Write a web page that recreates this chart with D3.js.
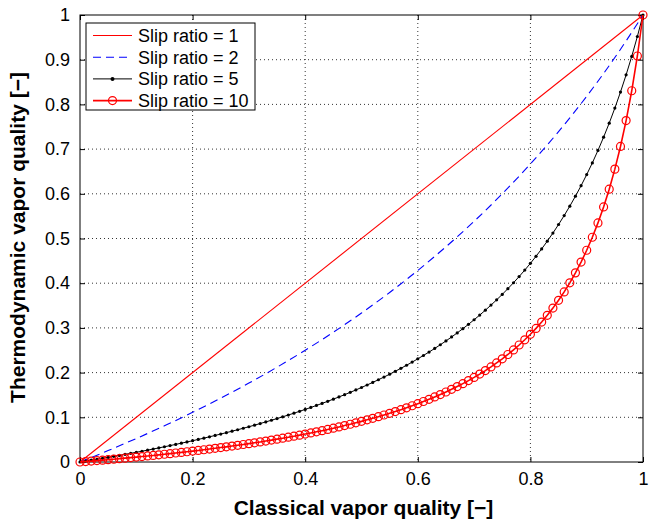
<!DOCTYPE html>
<html><head><meta charset="utf-8">
<script src="https://cdn.jsdelivr.net/npm/d3@7"></script>
<style>body{margin:0;background:#fff}svg{display:block}text{font-family:"Liberation Sans",Arial,sans-serif}</style>
</head><body><svg id="c" width="649" height="520"></svg>
<script>
// x grid for marker series (step 0.01)
const xFine = [0,0.01,0.02,0.03,0.04,0.05,0.06,0.07,0.08,0.09,0.10,0.11,0.12,0.13,0.14,0.15,0.16,0.17,0.18,0.19,0.20,0.21,0.22,0.23,0.24,0.25,0.26,0.27,0.28,0.29,0.30,0.31,0.32,0.33,0.34,0.35,0.36,0.37,0.38,0.39,0.40,0.41,0.42,0.43,0.44,0.45,0.46,0.47,0.48,0.49,0.50,0.51,0.52,0.53,0.54,0.55,0.56,0.57,0.58,0.59,0.60,0.61,0.62,0.63,0.64,0.65,0.66,0.67,0.68,0.69,0.70,0.71,0.72,0.73,0.74,0.75,0.76,0.77,0.78,0.79,0.80,0.81,0.82,0.83,0.84,0.85,0.86,0.87,0.88,0.89,0.90,0.91,0.92,0.93,0.94,0.95,0.96,0.97,0.98,0.99,1.00];
const xCoarse = [0,0.05,0.10,0.15,0.20,0.25,0.30,0.35,0.40,0.45,0.50,0.55,0.60,0.65,0.70,0.75,0.80,0.85,0.90,0.95,1.00];
const xLine = [0, 1];

const slip1 = [0, 1];
const slip2 = [0,0.0256,0.0526,0.0811,0.1111,0.1429,0.1765,0.2121,0.2500,0.2903,0.3333,0.3793,0.4286,0.4815,0.5385,0.6000,0.6667,0.7391,0.8182,0.9048,1.0000];
const slip5 = [0,0.0020,0.0041,0.0061,0.0083,0.0104,0.0126,0.0148,0.0171,0.0194,0.0217,0.0241,0.0265,0.0290,0.0315,0.0341,0.0367,0.0394,0.0421,0.0448,0.0476,0.0505,0.0534,0.0564,0.0594,0.0625,0.0657,0.0689,0.0722,0.0755,0.0789,0.0824,0.0860,0.0897,0.0934,0.0972,0.1011,0.1051,0.1092,0.1134,0.1176,0.1220,0.1265,0.1311,0.1358,0.1406,0.1456,0.1506,0.1558,0.1612,0.1667,0.1723,0.1781,0.1840,0.1901,0.1964,0.2029,0.2096,0.2164,0.2235,0.2308,0.2383,0.2460,0.2540,0.2623,0.2708,0.2797,0.2888,0.2982,0.3080,0.3182,0.3287,0.3396,0.3510,0.3627,0.3750,0.3878,0.4010,0.4149,0.4293,0.4444,0.4602,0.4767,0.4940,0.5122,0.5313,0.5513,0.5724,0.5946,0.6181,0.6429,0.6691,0.6970,0.7266,0.7581,0.7917,0.8276,0.8661,0.9074,0.9519,1.0000];
const slip10 = [0,0.0010,0.0020,0.0031,0.0041,0.0052,0.0063,0.0075,0.0086,0.0098,0.0110,0.0122,0.0135,0.0147,0.0160,0.0173,0.0187,0.0201,0.0215,0.0229,0.0244,0.0259,0.0274,0.0290,0.0306,0.0323,0.0339,0.0357,0.0374,0.0392,0.0411,0.0430,0.0449,0.0469,0.0490,0.0511,0.0533,0.0555,0.0578,0.0601,0.0625,0.0650,0.0675,0.0701,0.0728,0.0756,0.0785,0.0815,0.0845,0.0877,0.0909,0.0943,0.0977,0.1013,0.1051,0.1089,0.1129,0.1170,0.1213,0.1258,0.1304,0.1353,0.1403,0.1455,0.1509,0.1566,0.1626,0.1688,0.1753,0.1821,0.1892,0.1967,0.2045,0.2128,0.2216,0.2308,0.2405,0.2508,0.2617,0.2734,0.2857,0.2989,0.3130,0.3281,0.3443,0.3617,0.3805,0.4009,0.4231,0.4472,0.4737,0.5028,0.5349,0.5706,0.6104,0.6552,0.7059,0.7638,0.8305,0.9083,1.0000];

const seriesLabels = ["Slip ratio = 1","Slip ratio = 2","Slip ratio = 5","Slip ratio = 10"];
const xTicks = [0,0.2,0.4,0.6,0.8,1];
const yTicks = [0,0.1,0.2,0.3,0.4,0.5,0.6,0.7,0.8,0.9,1];
const xTitle = "Classical vapor quality [\u2212]";
const yTitle = "Thermodynamic vapor quality [\u2212]";

const svg = d3.select("#c");
const L = 80, R = 643, T = 15, B = 462;
const x = d3.scaleLinear().domain([0,1]).range([L,R]);
const y = d3.scaleLinear().domain([0,1]).range([B,T]);
const fmt = d => String(d);

// grid
const grid = svg.append("g");
grid.selectAll(".gx").data(xTicks.slice(1,-1)).enter().append("line")
  .attr("x1", d => x(d)).attr("x2", d => x(d)).attr("y1", T).attr("y2", B)
  .attr("stroke", "#000").attr("stroke-width", 0.8).attr("stroke-dasharray", "1,3");
grid.selectAll(".gy").data(yTicks.slice(1,-1)).enter().append("line")
  .attr("y1", d => y(d)).attr("y2", d => y(d)).attr("x1", L).attr("x2", R)
  .attr("stroke", "#000").attr("stroke-width", 0.8).attr("stroke-dasharray", "1,3");

// axes
const ax = svg.append("g").attr("transform", `translate(0,${B})`)
  .call(d3.axisBottom(x).tickValues(xTicks).tickFormat(fmt).tickSizeInner(-5).tickSizeOuter(0).tickPadding(10));
const axT = svg.append("g").attr("transform", `translate(0,${T})`)
  .call(d3.axisTop(x).tickValues(xTicks).tickFormat("").tickSizeInner(-5).tickSizeOuter(0));
const ay = svg.append("g").attr("transform", `translate(${L},0)`)
  .call(d3.axisLeft(y).tickValues(yTicks).tickFormat(fmt).tickSizeInner(-5).tickSizeOuter(0).tickPadding(10));
const ayR = svg.append("g").attr("transform", `translate(${R},0)`)
  .call(d3.axisRight(y).tickValues(yTicks).tickFormat("").tickSizeInner(-5).tickSizeOuter(0));
[ax,axT,ay,ayR].forEach(g => {
  g.select(".domain").remove();
  g.selectAll("line").attr("stroke","#000");
  g.selectAll("text").attr("font-size", 18).attr("fill","#000").attr("font-family","Liberation Sans, Arial, sans-serif");
});
svg.append("rect").attr("x",L).attr("y",T).attr("width",R-L).attr("height",B-T)
  .attr("fill","none").attr("stroke","#000").attr("stroke-width",1);

// lines
const mk = (xs, ys) => xs.map((v,i) => [v, ys[i]]);
const line = d3.line().x(d => x(d[0])).y(d => y(d[1]));
const plot = svg.append("g");
plot.append("path").datum(mk(xLine, slip1)).attr("d", line)
  .attr("fill","none").attr("stroke","#ff0000").attr("stroke-width",1.1);
plot.append("path").datum(mk(xCoarse, slip2)).attr("d", line.curve(d3.curveMonotoneX))
  .attr("fill","none").attr("stroke","#0000ff").attr("stroke-width",1.1).attr("stroke-dasharray","8,5");
line.curve(d3.curveLinear);
const d5 = mk(xFine, slip5);
plot.append("path").datum(d5).attr("d", line)
  .attr("fill","none").attr("stroke","#000").attr("stroke-width",1);
plot.selectAll(".m5").data(d5).enter().append("circle")
  .attr("cx", d => x(d[0])).attr("cy", d => y(d[1])).attr("r", 1.6).attr("fill","#000");
const d10 = mk(xFine, slip10);
plot.append("path").datum(d10).attr("d", line)
  .attr("fill","none").attr("stroke","#ff0000").attr("stroke-width",1.6);
plot.selectAll(".m10").data(d10).enter().append("circle")
  .attr("cx", d => x(d[0])).attr("cy", d => y(d[1])).attr("r", 4)
  .attr("fill","none").attr("stroke","#ff0000").attr("stroke-width",1.2);

// titles
svg.append("text").attr("x", (L+R)/2 + 2).attr("y", 515).attr("text-anchor","middle")
  .attr("font-size", 21).attr("font-weight","bold").text(xTitle);
svg.append("text").attr("transform", `translate(25,${(T+B)/2 - 1}) rotate(-90)`).attr("text-anchor","middle")
  .attr("font-size", 21).attr("font-weight","bold").text(yTitle);

// legend
const lg = svg.append("g");
lg.append("rect").attr("x",86).attr("y",23).attr("width",169).attr("height",87)
  .attr("fill","#fff").attr("stroke","#000").attr("stroke-width",1);
const ly = i => 35.5 + i*21.7;
const styles = [
  {c:"#ff0000", w:1.1, dash:null, m:null},
  {c:"#0000ff", w:1.1, dash:"8,5", m:null},
  {c:"#000", w:1, dash:null, m:"dot"},
  {c:"#ff0000", w:1.6, dash:null, m:"circle"}
];
seriesLabels.forEach((s,i) => {
  const st = styles[i];
  lg.append("line").attr("x1",93).attr("x2",132).attr("y1",ly(i)).attr("y2",ly(i))
    .attr("stroke",st.c).attr("stroke-width",st.w).attr("stroke-dasharray",st.dash);
  if (st.m === "dot") lg.append("circle").attr("cx",112.5).attr("cy",ly(i)).attr("r",2).attr("fill","#000");
  if (st.m === "circle") lg.append("circle").attr("cx",112.5).attr("cy",ly(i)).attr("r",4)
    .attr("fill","none").attr("stroke","#ff0000").attr("stroke-width",1.2);
  lg.append("text").attr("x",138).attr("y",ly(i)+6.5).attr("font-size",18).text(s);
});
</script></body></html>
